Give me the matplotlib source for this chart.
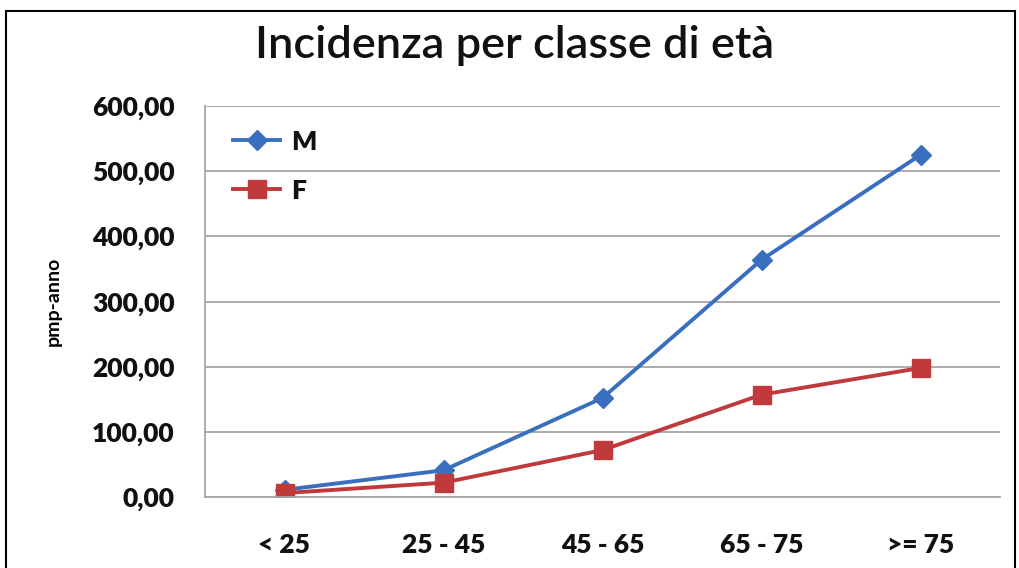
import matplotlib.pyplot as plt
from matplotlib.patches import Rectangle
from matplotlib.ticker import FuncFormatter

# ── Data ──────────────────────────────────────────────
CATEGORIES = ["< 25", "25 - 45", "45 - 65", "65 - 75", ">= 75"]
M_VALUES = [11, 41, 152, 364, 525]
F_VALUES = [6, 22, 72, 157, 198]

BLUE = "#3a6fbf"
RED = "#c0393b"

plt.rcParams["font.family"] = ["Lato", "DejaVu Sans"]

fig = plt.figure(figsize=(10.19, 5.68), dpi=100)
ax = fig.add_axes([205 / 1019, 1 - 497 / 568, 795 / 1019, 391 / 568])

x = range(len(CATEGORIES))
ax.plot(x, M_VALUES, color=BLUE, lw=2.8, marker="D", ms=10, label="M")
ax.plot(x, F_VALUES, color=RED, lw=2.8, marker="s", ms=13, label="F")

ax.set_xlim(-0.5, len(CATEGORIES) - 0.5)
ax.set_ylim(0, 600)
ax.set_yticks(range(0, 601, 100))
ax.yaxis.set_major_formatter(FuncFormatter(lambda v, _: f"{v:.2f}".replace(".", ",")))
ax.set_xticks(list(x), CATEGORIES)
ax.tick_params(axis="both", length=0, labelsize=19)
ax.tick_params(axis="y", pad=22)
ax.tick_params(axis="x", pad=26)
for lbl in ax.get_xticklabels() + ax.get_yticklabels():
    lbl.set_fontweight("heavy")
    lbl.set_color("#111111")

ax.grid(axis="y", color="#a6a6a6", lw=1.3)
ax.set_axisbelow(True)
for side in ("top", "right"):
    ax.spines[side].set_visible(False)
for side in ("left", "bottom"):
    ax.spines[side].set_color("#a6a6a6")
    ax.spines[side].set_linewidth(1.3)

ax.set_ylabel("pmp-anno", fontsize=14, fontweight="bold", labelpad=22)

leg = ax.legend(loc="upper left", frameon=False, fontsize=19, handlelength=1.8,
                handletextpad=0.4, borderaxespad=0.2, labelspacing=0.95,
                bbox_to_anchor=(0.015, 0.98))
for t in leg.get_texts():
    t.set_fontweight("heavy")
    t.set_color("#111111")

fig.text(515 / 1019, 1 - 45 / 568, "Incidenza per classe di età",
         ha="center", va="center", fontsize=32.5, fontweight="semibold",
         color="#111111")

# outer frame
fig.patches.append(Rectangle((6 / 1019, -0.05), 1009 / 1019, 1 - 11 / 568 + 0.05,
                             transform=fig.transFigure, fill=False,
                             edgecolor="black", lw=1.5))

fig.savefig("out.png", dpi=100)
